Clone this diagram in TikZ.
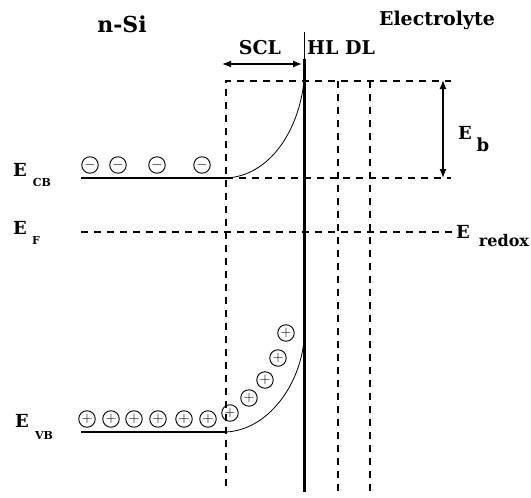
\documentclass[tikz,border=0pt]{standalone}
\usepackage{fontspec}
\setmainfont{DejaVu Serif}
\usetikzlibrary{arrows.meta}
\begin{document}
\begin{tikzpicture}[x=1pt,y=-1pt,
  lvl/.style={line width=1.3pt},
  dsh/.style={line width=1.3pt, dash pattern=on 7pt off 6pt},
  bandcurve/.style={line width=0.8pt},
  lbl/.style={font=\bfseries\fontsize{18}{18}\selectfont, inner sep=0pt},
  hdr/.style={font=\bfseries\fontsize{19}{19}\selectfont, inner sep=0pt},
  sub/.style={font=\bfseries\fontsize{11}{11}\selectfont, inner sep=0pt},
  chg/.style={circle, draw, line width=0.9pt, minimum size=16.5pt, inner sep=0pt, font=\bfseries\fontsize{15}{15}\selectfont},
  dim/.style={line width=1.3pt, {Latex[length=9pt,width=7pt]}-{Latex[length=9pt,width=7pt]}}]
\useasboundingbox (0,0) rectangle (531,498);
% coordinates
\coordinate (cbL) at (81,178);
\coordinate (cbA) at (226,178);
\coordinate (cbB) at (304,81);
\coordinate (vbL) at (81,432);
\coordinate (vbA) at (226,432);
\coordinate (vbB) at (304,340);
\coordinate (fL) at (81,232);
\coordinate (fR) at (452,232);
\coordinate (dTL) at (226,81);
\coordinate (dTR) at (451,81);
\coordinate (dBL) at (226,486);
\coordinate (cbR) at (451,178);
\coordinate (h1T) at (338,81);
\coordinate (h1B) at (338,496);
\coordinate (h2T) at (370,81);
\coordinate (h2B) at (370,496);
\coordinate (wTop) at (304,32);
\coordinate (wMid) at (304,59);
\coordinate (wBot) at (304,492);
% interface
\draw[line width=0.8pt] (wTop) -- (wMid);
\draw[line width=3pt] (wMid) -- (wBot);
% dashed lines
\draw[dsh] (dBL) -- (dTL) -- (dTR);
\draw[dsh] (cbA) -- (cbR);
\draw[dsh] (fL) -- (fR);
\draw[dsh] (h1T) -- (h1B);
\draw[dsh] (h2T) -- (h2B);
% bands
\draw[lvl] (cbL) -- (cbA);
\draw[bandcurve] (cbA) .. controls (270,176) and (299,130) .. (cbB);
\draw[lvl] (vbL) -- (vbA);
\draw[bandcurve] (vbA) .. controls (268,430) and (300,385) .. (vbB);
% arrows
\coordinate (sclL) at (222,64);
\coordinate (sclR) at (302,64);
\draw[dim] (sclL) -- (sclR);
\coordinate (ebT) at (443,80);
\coordinate (ebB) at (443,178);
\draw[dim] (ebT) -- (ebB);
% labels
\node[font=\bfseries\fontsize{22}{22}\selectfont, inner sep=0pt] (nsi) at (122,24) {n-Si};
\node[hdr] (elec) at (437,20) {Electrolyte};
\node[hdr] (scl) at (260,48) {SCL};
\node[hdr] (hldl) at (341,48) {HL DL};
\node[lbl] (ecbE) at (20,170) {E};
\node[sub] (ecbS) at (42,182) {CB};
\node[lbl] (efE) at (20,228) {E};
\node[sub] (efS) at (36,240) {F};
\node[lbl] (evbE) at (22,421) {E};
\node[sub] (evbS) at (44,435) {VB};
\node[lbl] (ebE) at (465,133) {E};
\node[font=\bfseries\fontsize{18}{18}\selectfont, inner sep=0pt] (ebS) at (483,145) {b};
\node[lbl] (erE) at (463,232) {E};
\node[font=\bfseries\fontsize{16}{16}\selectfont, inner sep=0pt] (erS) at (504,241) {redox};
% charges
\foreach \x [count=\i] in {90,118,157,202}
  \node[chg] (m\i) at (\x,165) {$-$};
\foreach \x/\y [count=\i] in {87/419,111/419,134/419,158/419,184/419,208/419,230/413,249/398,265/380,278/358,286/333}
  \node[chg] (p\i) at (\x,\y) {$+$};
\end{tikzpicture}
\end{document}
